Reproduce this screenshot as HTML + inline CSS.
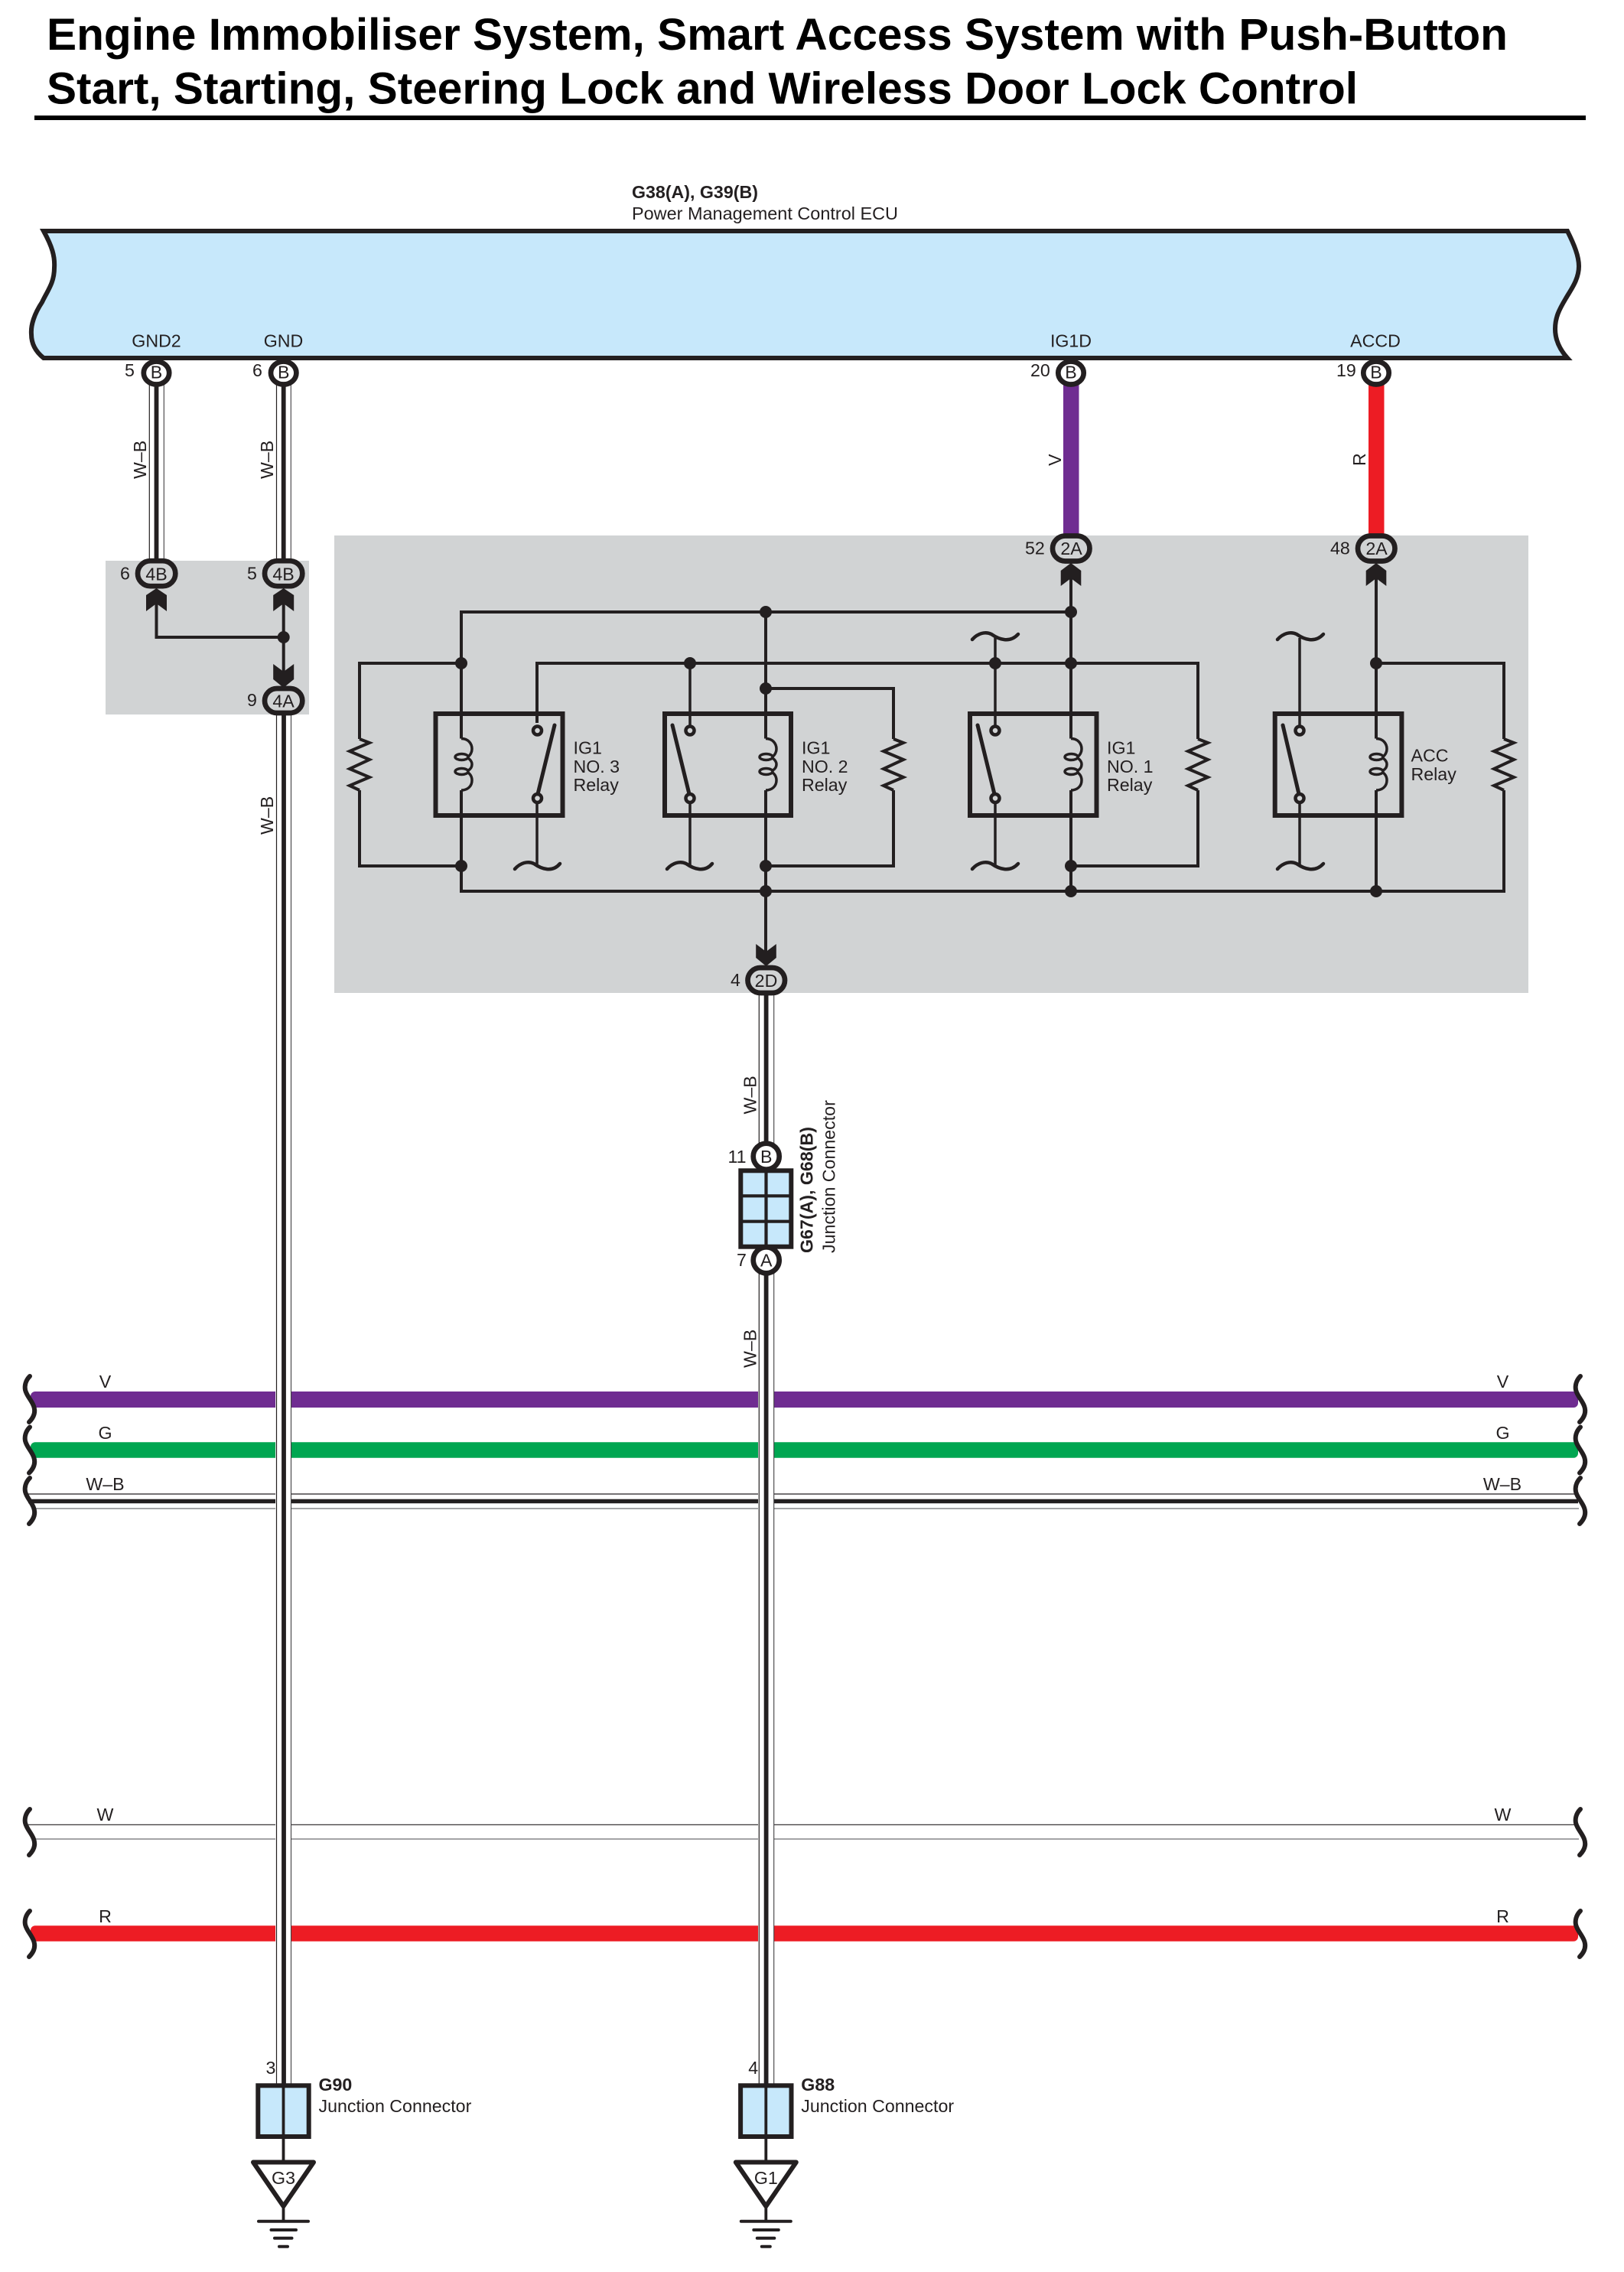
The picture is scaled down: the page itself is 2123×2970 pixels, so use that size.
<!DOCTYPE html>
<html><head><meta charset="utf-8"><style>
html,body{margin:0;padding:0;background:#fff}
svg{display:block}
text{font-family:"Liberation Sans",sans-serif;font-size:23.2px;fill:#231f20}
.b{font-weight:bold}
.c{text-anchor:middle}
.w{fill:none;stroke:#231f20;stroke-width:4;stroke-linejoin:miter}
.t{fill:none;stroke:#231f20;stroke-width:3.5}
.s{fill:none;stroke:#231f20;stroke-width:6;stroke-linecap:round}
.r{fill:none;stroke:#231f20;stroke-width:4.5;stroke-linecap:round}
.k{fill:#231f20}
.p{fill:#fff;stroke:#231f20;stroke-width:6.7}
.g{fill:#d1d3d4;stroke:#231f20;stroke-width:6.7}
.l1{stroke:#231f20;stroke-width:1.2}
.l2{stroke:#6d6e71;stroke-width:1.2}
.l3{stroke:#414042;stroke-width:1.1}
.cw{stroke:#231f20;stroke-width:5.8}
</style></head><body>
<svg xmlns="http://www.w3.org/2000/svg" width="2123" height="2970" viewBox="0 0 2123 2970">
<rect width="2123" height="2970" fill="#fff"/>
<text class="b" x="61" y="65" style="font-size:58px;fill:#000" textLength="1910" lengthAdjust="spacingAndGlyphs">Engine Immobiliser System, Smart Access System with Push-Button</text>
<text class="b" x="61" y="135.5" style="font-size:58px;fill:#000" textLength="1714" lengthAdjust="spacingAndGlyphs">Start, Starting, Steering Lock and Wireless Door Lock Control</text>
<rect x="45" y="151" width="2028" height="6" fill="#000"/>

<text class="b" x="826" y="259">G38(A), G39(B)</text>
<text x="826" y="287" textLength="348" lengthAdjust="spacingAndGlyphs">Power Management Control ECU</text>

<!-- grey regions -->
<rect x="138" y="733" width="266" height="201" fill="#d1d3d4"/>
<rect x="437" y="700" width="1561" height="598" fill="#d1d3d4"/>

<!-- buses -->
<rect x="40" y="1819" width="2023" height="21" rx="6" fill="#6f2c91"/>
<rect x="40" y="1885.3" width="2023" height="20.5" rx="6" fill="#00a651"/>
<line x1="37" y1="1953" x2="2062" y2="1953" class="l1"/>
<rect x="37" y="1959.7" width="2026" height="5.5" fill="#231f20"/>
<line x1="44" y1="1972" x2="2064" y2="1972" class="l2"/>
<line x1="37" y1="2385.3" x2="2062" y2="2385.3" class="l1"/>
<line x1="44" y1="2404" x2="2064" y2="2404" class="l2"/>
<rect x="40" y="2517.3" width="2023" height="20.5" rx="6" fill="#ed1c24"/>
<rect x="360" y="1810" width="21" height="740" fill="#fff"/>
<rect x="991" y="1810" width="21" height="740" fill="#fff"/>

<!-- bus waves left -->
<path class="s" d="M39 1799 C33 1805 32 1812 33 1817 C35 1825 41 1830 44 1838 C47 1846 44 1853 38 1859"/>
<path class="s" d="M39 1865.5 C33 1871.5 32 1878.5 33 1883.5 C35 1891.5 41 1896.5 44 1904.5 C47 1912.5 44 1919.5 38 1925.5"/>
<path class="s" d="M39 1932 C33 1938 32 1945 33 1950 C35 1958 41 1963 44 1971 C47 1979 44 1986 38 1992"/>
<path class="s" d="M39 2365 C33 2371 32 2378 33 2383 C35 2391 41 2396 44 2404 C47 2412 44 2419 38 2425"/>
<path class="s" d="M39 2498 C33 2504 32 2511 33 2516 C35 2524 41 2529 44 2537 C47 2545 44 2552 38 2558"/>
<!-- bus waves right -->
<path class="s" d="M2066 1799 C2060 1805 2059 1812 2060 1817 C2062 1825 2068 1830 2071 1838 C2074 1846 2071 1853 2065 1859"/>
<path class="s" d="M2066 1865.5 C2060 1871.5 2059 1878.5 2060 1883.5 C2062 1891.5 2068 1896.5 2071 1904.5 C2074 1912.5 2071 1919.5 2065 1925.5"/>
<path class="s" d="M2066 1932 C2060 1938 2059 1945 2060 1950 C2062 1958 2068 1963 2071 1971 C2074 1979 2071 1986 2065 1992"/>
<path class="s" d="M2066 2365 C2060 2371 2059 2378 2060 2383 C2062 2391 2068 2396 2071 2404 C2074 2412 2071 2419 2065 2425"/>
<path class="s" d="M2066 2498 C2060 2504 2059 2511 2060 2516 C2062 2524 2068 2529 2071 2537 C2074 2545 2071 2552 2065 2558"/>

<text class="c" x="137.5" y="1814">V</text><text class="c" x="1964.5" y="1814">V</text>
<text class="c" x="137.5" y="1881">G</text><text class="c" x="1964.5" y="1881">G</text>
<text class="c" x="137.5" y="1948">W–B</text><text class="c" x="1964" y="1948">W–B</text>
<text class="c" x="137.5" y="2380">W</text><text class="c" x="1964.5" y="2380">W</text>
<text class="c" x="137.5" y="2513">R</text><text class="c" x="1964.5" y="2513">R</text>

<!-- top wires -->
<line x1="195.3" y1="500" x2="195.3" y2="735" class="l1"/><line x1="214.3" y1="500" x2="214.3" y2="735" class="l3"/><line x1="204.5" y1="500" x2="204.5" y2="735" class="cw"/>
<line x1="361.5" y1="500" x2="361.5" y2="735" class="l1"/><line x1="380.3" y1="500" x2="380.3" y2="735" class="l3"/><line x1="370.7" y1="500" x2="370.7" y2="735" class="cw"/>
<rect x="1390" y="500" width="20.500" height="205" fill="#6f2c91"/>
<rect x="1789" y="500" width="20.500" height="205" fill="#ed1c24"/>

<!-- long verticals -->
<line x1="361.5" y1="930" x2="361.5" y2="2730" class="l1"/><line x1="380.5" y1="930" x2="380.5" y2="2730" class="l3"/><line x1="371" y1="930" x2="371" y2="2730" class="cw"/>
<line x1="992.3" y1="1295" x2="992.3" y2="1500" class="l1"/><line x1="1011.7" y1="1295" x2="1011.7" y2="1500" class="l3"/><line x1="1001.6" y1="1295" x2="1001.6" y2="1500" class="cw"/>
<line x1="992.3" y1="1660" x2="992.3" y2="2730" class="l1"/><line x1="1011.7" y1="1660" x2="1011.7" y2="2730" class="l3"/><line x1="1001.6" y1="1660" x2="1001.6" y2="2730" class="cw"/>

<!-- ECU body -->
<path d="M57 302 C68 322 72 335 71 350 C71 370 62 380 55 395 C45 410 40 425 41 437 C41 450 47 460 57 468 L2049 468 C2040 458 2033 445 2033 430 C2033 415 2038 405 2047 390 C2054 378 2064 365 2064 348 C2064 335 2058 320 2049 302 Z" fill="#c7e8fb" stroke="#231f20" stroke-width="6"/>
<text class="c" x="204.5" y="453.5">GND2</text>
<text class="c" x="370.5" y="453.5">GND</text>
<text class="c" x="1400" y="453.5">IG1D</text>
<text class="c" x="1798" y="453.5">ACCD</text>

<!-- ECU pins -->
<ellipse class="p" cx="204.5" cy="487.5" rx="16.700" ry="15"/><text class="c" x="204.5" y="494.5">B</text><text x="163" y="492">5</text>
<ellipse class="p" cx="370.7" cy="487.5" rx="16.700" ry="15"/><text class="c" x="370.7" y="494.5">B</text><text x="330" y="492">6</text>
<ellipse class="p" cx="1400" cy="487.5" rx="16.700" ry="15"/><text class="c" x="1400" y="494.5">B</text><text x="1347" y="492">20</text>
<ellipse class="p" cx="1799" cy="487.5" rx="16.700" ry="15"/><text class="c" x="1799" y="494.5">B</text><text x="1747" y="492">19</text>

<!-- rotated labels -->
<text transform="translate(191 626) rotate(-90)">W–B</text>
<text transform="translate(357 626) rotate(-90)">W–B</text>
<text transform="translate(357 1091) rotate(-90)">W–B</text>
<text transform="translate(988.5 1456.5) rotate(-90)">W–B</text>
<text transform="translate(988.5 1788) rotate(-90)">W–B</text>
<text transform="translate(1387 609) rotate(-90)">V</text>
<text transform="translate(1785 609) rotate(-90)">R</text>

<!-- 4B/4A block -->
<path class="w" d="M204.5 785 V833 H370.7 M370.7 785 V880"/>
<circle class="k" cx="370.7" cy="833" r="8"/>
<polygon class="k" points="204.5,769 218,778 218,799 204.5,789 191,799 191,778"/>
<polygon class="k" points="370.7,769 384.2,778 384.2,799 370.7,789 357.2,799 357.2,778"/>
<polygon class="k" points="370.7,899 384.2,888 384.2,868 370.7,878 357.2,868 357.2,888"/>
<rect class="g" x="180" y="733.200" width="49.300" height="33" rx="16.500"/><text class="c" x="204.5" y="758.5">4B</text><text x="157" y="757.5">6</text>
<rect class="g" x="346" y="733.200" width="49.300" height="33" rx="16.500"/><text class="c" x="370.5" y="758.5">4B</text><text x="323" y="757.5">5</text>
<rect class="g" x="346" y="900" width="49.300" height="32" rx="16"/><text class="c" x="370.5" y="924.5">4A</text><text x="323" y="923">9</text>

<!-- relay wiring -->
<path class="w" d="M1400 800 H603 V965.500 M603 1033 V1165 H1966 V1033 M1966 966 V867 H1799"/>
<path class="w" d="M603 867 H470 V966 M470 1033 V1132 H603"/>
<path class="w" d="M702 945 V867 H1400 M1400 867 H1566 V966 M1566 1033 V1132 H1400"/>
<path class="w" d="M1001 800 V965.500 M1001 1033 V1250"/>
<path class="w" d="M1001 900 H1168 V966 M1168 1033 V1132 H1001"/>
<path class="w" d="M1400 755 V965.500 M1400 1033 V1165"/>
<path class="w" d="M1799 755 V965.500 M1799 1033 V1165"/>
<path class="t" d="M702 1049 V1133 M902 867 V950 M902 1049 V1133 M1301 834 V950 M1301 1049 V1133 M1699 834 V950 M1699 1049 V1133"/>
<path class="w" d="M470 966 L483 971 L457 982 L483 993 L457 1005 L483 1016 L457 1027 L470 1033"/>
<path class="w" d="M1168 966 L1181 971 L1155 982 L1181 993 L1155 1005 L1181 1016 L1155 1027 L1168 1033"/>
<path class="w" d="M1566 966 L1579 971 L1553 982 L1579 993 L1553 1005 L1579 1016 L1553 1027 L1566 1033"/>
<path class="w" d="M1966 966 L1979 971 L1953 982 L1979 993 L1953 1005 L1979 1016 L1953 1027 L1966 1033"/>
<!-- relay boxes -->
<g fill="none" stroke="#231f20" stroke-width="6">
<rect x="569.5" y="933" width="166" height="133"/>
<rect x="869" y="933" width="165" height="133"/>
<rect x="1268" y="933" width="165.500" height="133"/>
<rect x="1666.700" y="933" width="165.700" height="133"/>
</g>
<!-- coils -->
<g fill="none" stroke="#231f20" stroke-width="3.500">
<g transform="translate(603 0)"><path d="M0 965.500 C9 965.500 14 972 14 979 C14 983 12 987 9 989 M9 991 C13 994 14 997 14 999 C14 1002 13 1005 9 1007 M9 1010 C13 1013 14 1017 14 1020 C14 1028 8 1033 0 1033"/><ellipse cx="0.500" cy="989.500" rx="8.500" ry="4"/><ellipse cx="0.500" cy="1008.500" rx="8.500" ry="4"/></g>
<g transform="translate(1001 0)"><path d="M0 965.500 C9 965.500 14 972 14 979 C14 983 12 987 9 989 M9 991 C13 994 14 997 14 999 C14 1002 13 1005 9 1007 M9 1010 C13 1013 14 1017 14 1020 C14 1028 8 1033 0 1033"/><ellipse cx="0.500" cy="989.500" rx="8.500" ry="4"/><ellipse cx="0.500" cy="1008.500" rx="8.500" ry="4"/></g>
<g transform="translate(1400 0)"><path d="M0 965.500 C9 965.500 14 972 14 979 C14 983 12 987 9 989 M9 991 C13 994 14 997 14 999 C14 1002 13 1005 9 1007 M9 1010 C13 1013 14 1017 14 1020 C14 1028 8 1033 0 1033"/><ellipse cx="0.500" cy="989.500" rx="8.500" ry="4"/><ellipse cx="0.500" cy="1008.500" rx="8.500" ry="4"/></g>
<g transform="translate(1799 0)"><path d="M0 965.500 C9 965.500 14 972 14 979 C14 983 12 987 9 989 M9 991 C13 994 14 997 14 999 C14 1002 13 1005 9 1007 M9 1010 C13 1013 14 1017 14 1020 C14 1028 8 1033 0 1033"/><ellipse cx="0.500" cy="989.500" rx="8.500" ry="4"/><ellipse cx="0.500" cy="1008.500" rx="8.500" ry="4"/></g>
</g>
<!-- switches -->
<g fill="#d1d3d4" stroke="#231f20" stroke-width="4.500">
<circle cx="702.500" cy="955" r="5.500"/><circle cx="702.500" cy="1043.500" r="5.500"/>
<circle cx="902" cy="955" r="5.500"/><circle cx="902" cy="1043.500" r="5.500"/>
<circle cx="1301" cy="955" r="5.500"/><circle cx="1301" cy="1043.500" r="5.500"/>
<circle cx="1699" cy="955" r="5.500"/><circle cx="1699" cy="1043.500" r="5.500"/>
</g>
<g stroke="#231f20" stroke-width="5" stroke-linecap="round">
<line x1="725" y1="948" x2="703" y2="1038"/>
<line x1="879" y1="948" x2="901" y2="1038"/>
<line x1="1278" y1="948" x2="1300" y2="1038"/>
<line x1="1677" y1="948" x2="1698" y2="1038"/>
</g>
<!-- waves -->
<path class="r" d="M673 1136 C680 1128 690 1125 698 1129 C708 1136 722 1141 732 1129"/>
<path class="r" d="M872 1136 C879 1128 889 1125 897 1129 C907 1136 921 1141 931 1129"/>
<path class="r" d="M1271 1136 C1278 1128 1288 1125 1296 1129 C1306 1136 1320 1141 1331 1129"/>
<path class="r" d="M1670 1136 C1677 1128 1687 1125 1695 1129 C1705 1136 1719 1141 1730 1129"/>
<path class="r" d="M1271 836 C1278 828 1288 825 1296 829 C1306 836 1320 841 1331 829"/>
<path class="r" d="M1670 836 C1677 828 1687 825 1695 829 C1705 836 1719 841 1730 829"/>
<!-- junction dots -->
<g class="k">
<circle cx="1001" cy="800" r="8"/><circle cx="1400" cy="800" r="8"/>
<circle cx="603" cy="867" r="8"/><circle cx="902" cy="867" r="8"/><circle cx="1301" cy="867" r="8"/><circle cx="1400" cy="867" r="8"/><circle cx="1799" cy="867" r="8"/>
<circle cx="1001" cy="900" r="8"/>
<circle cx="603" cy="1132" r="8"/><circle cx="1001" cy="1132" r="8"/><circle cx="1400" cy="1132" r="8"/>
<circle cx="1001" cy="1165" r="8"/><circle cx="1400" cy="1165" r="8"/><circle cx="1799" cy="1165" r="8"/>
</g>
<!-- relay labels -->
<text x="749.500" y="985.500">IG1</text><text x="749.500" y="1010">NO. 3</text><text x="749.500" y="1034">Relay</text>
<text x="1048" y="985.500">IG1</text><text x="1048" y="1010">NO. 2</text><text x="1048" y="1034">Relay</text>
<text x="1447" y="985.500">IG1</text><text x="1447" y="1010">NO. 1</text><text x="1447" y="1034">Relay</text>
<text x="1844.500" y="995.500">ACC</text><text x="1844.500" y="1020">Relay</text>

<!-- 2A / 2D connectors -->
<polygon class="k" points="1400,736 1413.300,746 1413.300,766 1400,756 1386.700,766 1386.700,746"/>
<polygon class="k" points="1799,736 1812.300,746 1812.300,766 1799,756 1785.700,766 1785.700,746"/>
<polygon class="k" points="1001.500,1263 1014.800,1252 1014.800,1234 1001.500,1244 988.200,1234 988.200,1252"/>
<rect class="g" x="1376" y="700.500" width="48.500" height="33" rx="16.500"/><text class="c" x="1400.500" y="725">2A</text><text x="1340" y="724.500">52</text>
<rect class="g" x="1775" y="700.500" width="48.500" height="33" rx="16.500"/><text class="c" x="1799.500" y="725">2A</text><text x="1739" y="724.500">48</text>
<rect class="g" x="977.500" y="1265" width="48.500" height="33" rx="16.500"/><text class="c" x="1001.500" y="1290">2D</text><text x="955" y="1289">4</text>

<!-- G67/G68 -->
<circle class="p" cx="1001.700" cy="1511.700" r="17"/><text class="c" x="1001.700" y="1520">B</text><text x="951.500" y="1520">11</text>
<circle class="p" cx="1001.700" cy="1647.300" r="17"/><text class="c" x="1001.700" y="1655.500">A</text><text x="963" y="1655">7</text>
<rect x="968.300" y="1530.300" width="66" height="99.400" fill="#c7e8fb" stroke="#231f20" stroke-width="6"/>
<path d="M1001.500 1530 V1630 M968 1563.300 H1034 M968 1596.700 H1034" stroke="#231f20" stroke-width="4.200" fill="none"/>
<text class="b" transform="translate(1062.500 1638) rotate(-90)">G67(A), G68(B)</text>
<text transform="translate(1091.500 1638) rotate(-90)">Junction Connector</text>

<!-- G90 -->
<rect x="337.300" y="2726.300" width="66.400" height="66.700" fill="#c7e8fb" stroke="#231f20" stroke-width="6"/>
<line x1="370.500" y1="2726" x2="370.500" y2="2826" stroke="#231f20" stroke-width="3.800"/>
<polygon points="331,2826.500 410,2826.500 370.500,2884" fill="#fff" stroke="#231f20" stroke-width="6" stroke-linejoin="round"/>
<line x1="370.500" y1="2884" x2="370.500" y2="2903" stroke="#231f20" stroke-width="3.800"/>
<path d="M338 2903.700 H403 M354.500 2915 H387 M359 2925.700 H381.500 M365 2936.700 H376" stroke="#231f20" stroke-width="4" stroke-linecap="round" fill="none"/>
<text x="347.500" y="2711">3</text>
<text class="b" x="416.500" y="2733">G90</text><text x="416.500" y="2761">Junction Connector</text>
<text class="c" x="370.500" y="2855">G3</text>

<!-- G88 -->
<rect x="968.100" y="2726.300" width="66.400" height="66.700" fill="#c7e8fb" stroke="#231f20" stroke-width="6"/>
<line x1="1001.300" y1="2726" x2="1001.300" y2="2826" stroke="#231f20" stroke-width="3.800"/>
<polygon points="961.800,2826.500 1040.800,2826.500 1001.300,2884" fill="#fff" stroke="#231f20" stroke-width="6" stroke-linejoin="round"/>
<line x1="1001.300" y1="2884" x2="1001.300" y2="2903" stroke="#231f20" stroke-width="3.800"/>
<path d="M968.800 2903.700 H1033.800 M985.300 2915 H1017.800 M989.800 2925.700 H1012.300 M995.800 2936.700 H1006.800" stroke="#231f20" stroke-width="4" stroke-linecap="round" fill="none"/>
<text x="978.300" y="2711">4</text>
<text class="b" x="1047.300" y="2733">G88</text><text x="1047.300" y="2761">Junction Connector</text>
<text class="c" x="1001.300" y="2855">G1</text>
</svg>
</body></html>
